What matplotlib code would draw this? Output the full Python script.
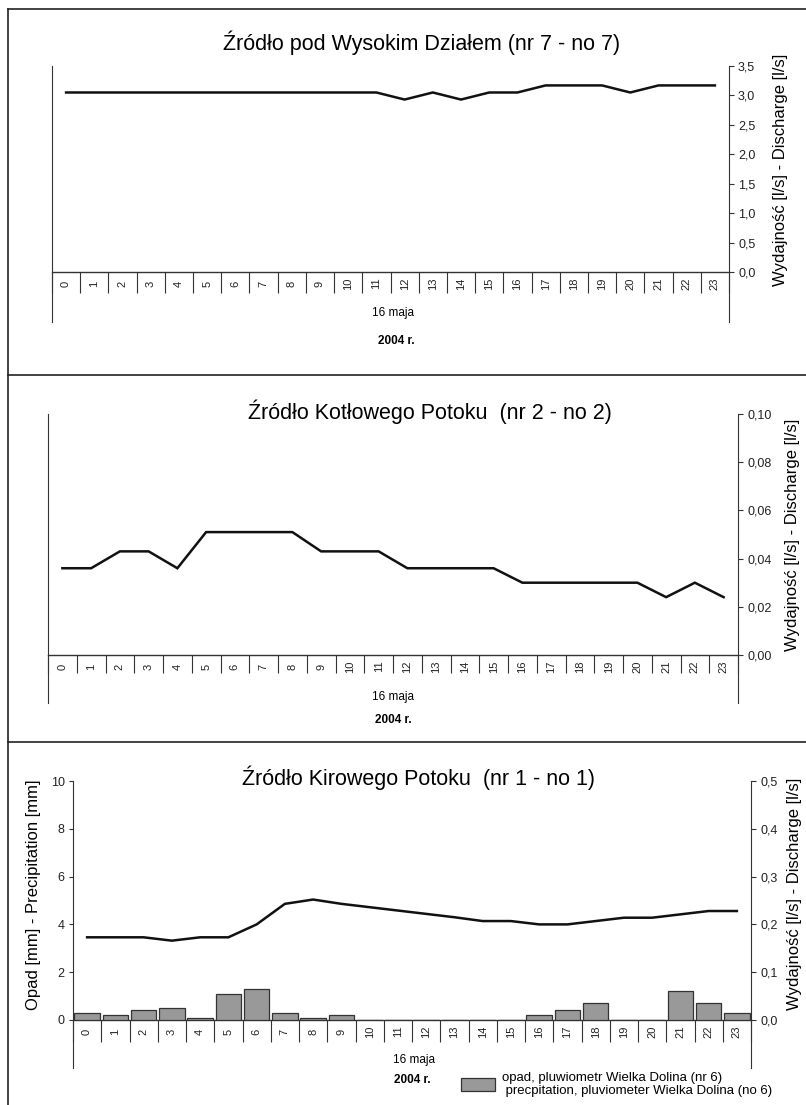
import matplotlib
matplotlib.use("Agg")
import matplotlib.pyplot as plt
from matplotlib.lines import Line2D
from matplotlib.ticker import FuncFormatter

W, H = 806, 1105

plt.rcParams['font.family'] = ['Liberation Sans', 'DejaVu Sans']

# --- data ---
hours = list(range(24))
hour_labels = [str(h) for h in hours]
day_label = "16 maja"
year_label = "2004 r."

titles = [
    "Źródło pod Wysokim Działem (nr 7 - no 7)",
    "Źródło Kotłowego Potoku  (nr 2 - no 2)",
    "Źródło Kirowego Potoku  (nr 1 - no 1)",
]
q_label = "Wydajność [l/s] - Discharge [l/s]"
p_label = "Opad [mm] - Precipitation [mm]"
legend_label = "opad, pluwiometr Wielka Dolina (nr 6)\n precpitation, pluviometer Wielka Dolina (no 6)"

# discharge, l/s
q_nr7 = [3.05, 3.05, 3.05, 3.05, 3.05, 3.05, 3.05, 3.05, 3.05, 3.05, 3.05, 3.05,
         2.93, 3.05, 2.93, 3.05, 3.05, 3.17, 3.17, 3.17, 3.05, 3.17, 3.17, 3.17]
q_nr2 = [0.036, 0.036, 0.043, 0.043, 0.036, 0.051, 0.051, 0.051, 0.051, 0.043, 0.043, 0.043,
         0.036, 0.036, 0.036, 0.036, 0.030, 0.030, 0.030, 0.030, 0.030, 0.024, 0.030, 0.024]
q_nr1 = [0.173, 0.173, 0.173, 0.166, 0.173, 0.173, 0.200, 0.243, 0.252, 0.243, 0.236, 0.229,
         0.222, 0.215, 0.207, 0.207, 0.200, 0.200, 0.207, 0.214, 0.214, 0.221, 0.228, 0.228]
# precipitation, mm
opad_nr6 = [0.3, 0.2, 0.4, 0.5, 0.1, 1.1, 1.3, 0.3, 0.1, 0.2, 0.0, 0.0,
            0.0, 0.0, 0.0, 0.0, 0.2, 0.4, 0.7, 0.0, 0.0, 1.2, 0.7, 0.3]

AXC = '#333333'
FRAME = '#222222'


def rect(x0, y0, x1, y1):
    return [x0 / W, 1 - y1 / H, (x1 - x0) / W, (y1 - y0) / H]


def fx(x):
    return x / W


def fy(y):
    return 1 - y / H


def comma(fmt):
    return FuncFormatter(lambda v, p: fmt.format(v).replace('.', ','))


def setup_panel(ax, box, sep_px, tail_px):
    x0, y0, x1, y1 = box
    h = y1 - y0
    ax.set_xlim(-0.5, 23.5)
    for s in ax.spines.values():
        s.set_visible(False)
    ax.plot([0, 1], [0, 0], transform=ax.transAxes, color=AXC, lw=1.0, clip_on=False)
    for xx in (0, 1):
        ax.plot([xx, xx], [1, -tail_px / h], transform=ax.transAxes, color=AXC,
                lw=0.8, clip_on=False)
    ax.set_xticks([i - 0.5 for i in hours] + [23.5])
    ax.tick_params(axis='x', length=sep_px * 0.72, width=0.8, color=AXC,
                   direction='out', labelbottom=False)
    for i, lab in zip(hours, hour_labels):
        ax.text(i, -11.5 / h, lab, transform=ax.get_xaxis_transform(), rotation=90,
                ha='center', va='center', fontsize=8, color='#222222')
    cx = (x0 + x1) / 2
    return cx


def right_axis(ax, top, step, fmt):
    ax.yaxis.tick_right()
    ax.set_ylim(0, top)
    n = int(round(top / step))
    ax.set_yticks([k * step for k in range(n + 1)])
    ax.yaxis.set_major_formatter(comma(fmt))
    ax.tick_params(axis='y', which='both', direction='out', length=3.5, width=0.8,
                   color=AXC, pad=3, labelsize=9, labelcolor='#222222',
                   left=False, labelleft=False, right=True, labelright=True)


fig = plt.figure(figsize=(W / 100, H / 100), dpi=100)

# outer frame
for xs, ys in [((8, 8), (9, H)), ((8, W), (9, 9)), ((8, W), (374.5, 374.5)),
               ((8, W), (742, 742))]:
    fig.add_artist(Line2D([fx(xs[0]), fx(xs[1])], [fy(ys[0]), fy(ys[1])],
                          transform=fig.transFigure, color=FRAME, lw=1.2))

# ---- panel 1 ----
box1 = (52, 66, 729, 272)
ax1 = fig.add_axes(rect(*box1))
cx1 = setup_panel(ax1, box1, 21, 50)
right_axis(ax1, 3.5, 0.5, '{:.1f}')
ax1.plot(hours, q_nr7, color='#111111', lw=1.8, solid_joinstyle='miter')
fig.text(fx(422), fy(43), titles[0], ha='center', va='center', fontsize=15.5)
fig.text(fx(780), fy(170), q_label, ha='center', va='center', rotation=90, fontsize=12)
fig.text(fx(cx1 + 2), fy(313), day_label, ha='center', va='center', fontsize=8.5)
fig.text(fx(cx1 + 6), fy(341), year_label, ha='center', va='center', fontsize=8.5,
         fontweight='bold')

# ---- panel 2 ----
box2 = (48, 414, 738, 655)
ax2 = fig.add_axes(rect(*box2))
cx2 = setup_panel(ax2, box2, 18, 48)
right_axis(ax2, 0.10, 0.02, '{:.2f}')
ax2.plot(hours, q_nr2, color='#111111', lw=1.8, solid_joinstyle='miter')
fig.text(fx(430), fy(412), titles[1], ha='center', va='center', fontsize=15.5)
fig.text(fx(792), fy(535), q_label, ha='center', va='center', rotation=90, fontsize=12)
fig.text(fx(cx2), fy(697), day_label, ha='center', va='center', fontsize=8.5)
fig.text(fx(cx2), fy(720), year_label, ha='center', va='center', fontsize=8.5,
         fontweight='bold')

# ---- panel 3 ----
box3 = (73, 781, 751, 1020)
ax3 = fig.add_axes(rect(*box3))
cx3 = setup_panel(ax3, box3, 22, 48)
ax3.set_ylim(0, 10)
ax3.set_yticks([0, 2, 4, 6, 8, 10])
ax3.tick_params(axis='y', direction='out', length=3, width=0.8, color=AXC, pad=3,
                labelsize=9, labelcolor='#222222')
bars = ax3.bar(hours, opad_nr6, width=0.9, color='#999999', edgecolor='#333333',
               linewidth=0.9, zorder=2)
ax3b = ax3.twinx()
for s in ax3b.spines.values():
    s.set_visible(False)
right_axis(ax3b, 0.5, 0.1, '{:.1f}')
ax3b.plot(hours, q_nr1, color='#111111', lw=1.8)
fig.text(fx(419), fy(778), titles[2], ha='center', va='center', fontsize=15.5)
fig.text(fx(794), fy(894), q_label, ha='center', va='center', rotation=90, fontsize=12)
fig.text(fx(34), fy(895), p_label, ha='center', va='center', rotation=90, fontsize=12)
fig.text(fx(cx3 + 2), fy(1060), day_label, ha='center', va='center', fontsize=8.5)
fig.text(fx(cx3), fy(1080), year_label, ha='center', va='center', fontsize=8.5,
         fontweight='bold')

leg = fig.legend([bars], [legend_label], loc='upper left',
                 bbox_to_anchor=(fx(461), fy(1072)), frameon=False, fontsize=9.5,
                 borderpad=0, borderaxespad=0, handlelength=2.6, handleheight=1.2,
                 handletextpad=0.5)
for t in leg.get_texts():
    t.set_linespacing(1.1)

fig.savefig('out.png', dpi=100)
